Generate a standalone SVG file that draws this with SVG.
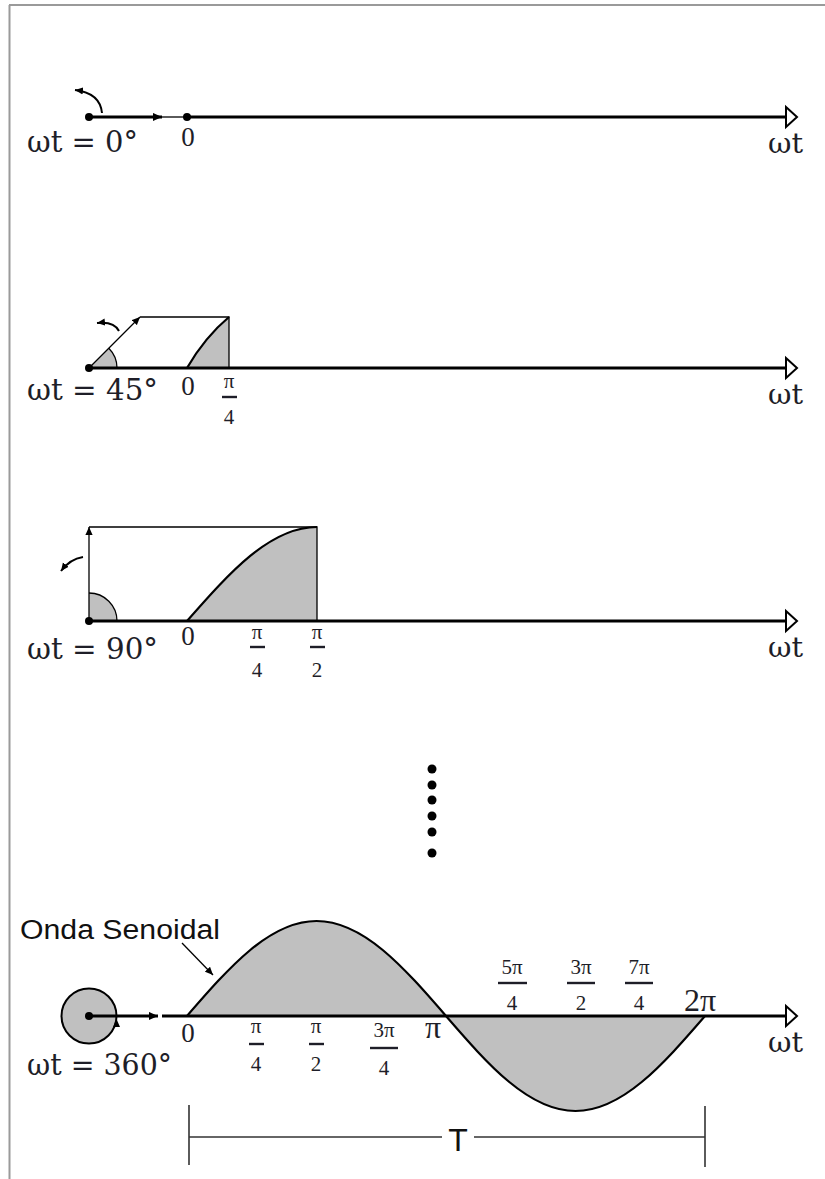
<svg xmlns="http://www.w3.org/2000/svg" width="825" height="1179" viewBox="0 0 825 1179">
<style>
.frame{stroke:#9a9a9a;stroke-width:2;fill:none}
.axis{stroke:#000;stroke-width:3;fill:none}
.thin{stroke:#000;stroke-width:1.3;fill:none}
.curve{stroke:#000;stroke-width:2.2;fill:none}
.fillg{fill:#c0c0c0;stroke:none}
.open{fill:#fff;stroke:#000;stroke-width:2}
.lbl{font-family:"DejaVu Serif","Liberation Serif",serif;fill:#1e1e28}
.pi{font-family:"Liberation Serif","DejaVu Serif",serif;fill:#1e1e28}
.big{font-size:30px}
.ax{font-size:27px;text-anchor:middle}
.fr{font-size:21px;text-anchor:middle}
.wt{font-size:27px}
.sans{font-family:"Liberation Sans",Arial,sans-serif;fill:#111}
.bar{stroke:#1e1e28;stroke-width:2.4}
.dim{stroke:#333;stroke-width:1.6;fill:none}
</style>
<defs>
<marker id="ah" viewBox="0 0 10 10" refX="10" refY="5" markerWidth="9" markerHeight="9" markerUnits="userSpaceOnUse" orient="auto"><path d="M0,0.5 L10,5 L0,9.5 Z" fill="#000"/></marker>
<marker id="ahs" viewBox="0 0 10 10" refX="10" refY="5" markerWidth="8" markerHeight="8" markerUnits="userSpaceOnUse" orient="auto"><path d="M0,0.5 L10,5 L0,9.5 Z" fill="#000"/></marker>
</defs>
<g id="frame">
<line class="frame" x1="9" y1="5" x2="825" y2="5"/>
<line class="frame" x1="9.5" y1="5" x2="9.5" y2="1179"/>
</g>
<g id="row1">
<path class="thin" d="M162,117 L187,117"/>
<path class="axis" d="M187,117 L786,117"/>
<path class="axis" d="M89,117 L162,117" marker-end="url(#ah)"/>
<polygon class="open" points="786,107 797,117 786,127"/>
<circle cx="89" cy="117" r="4" fill="#000"/>
<circle cx="187" cy="117" r="4" fill="#000"/>
<path stroke="#000" stroke-width="2" fill="none" d="M102,113 Q100,93 75,90" marker-end="url(#ahs)"/>
<text class="lbl big" x="27" y="152" textLength="111" lengthAdjust="spacingAndGlyphs">ωt = 0°</text>
<text class="pi ax" x="188" y="146">0</text>
<text class="lbl wt" x="768" y="153" textLength="35" lengthAdjust="spacingAndGlyphs">ωt</text>
</g>
<g id="row2">
<path class="fillg" d="M89,368 L117,368 A28,28 0 0 0 108.8,348.2 Z"/>
<path class="fillg" d="M187,368 Q205,337 229,317 L229,368 Z"/>
<path class="thin" d="M108.8,348.2 A28,28 0 0 1 117,368" stroke-width="1.6"/>
<path class="thin" d="M89,368 L140,317" marker-end="url(#ahs)"/>
<path class="thin" d="M140,317 L229,317 L229,368" stroke-width="1.6"/>
<path class="curve" d="M187,368 Q205,337 229,317"/>
<path class="axis" d="M89,368 L786,368"/>
<polygon class="open" points="786,358 797,368 786,378"/>
<circle cx="89" cy="368" r="4" fill="#000"/>
<path stroke="#000" stroke-width="2" fill="none" d="M119,331 Q114,321 97,323" marker-end="url(#ahs)"/>
<text class="lbl big" x="27" y="400" textLength="131" lengthAdjust="spacingAndGlyphs">ωt = 45°</text>
<text class="pi ax" x="188" y="395">0</text>
<text class="pi fr" x="229" y="388">π</text>
<line class="bar" x1="222" y1="397" x2="237" y2="397"/>
<text class="pi fr" x="229" y="424">4</text>
<text class="lbl wt" x="768" y="404" textLength="35" lengthAdjust="spacingAndGlyphs">ωt</text>
</g>
<g id="row3">
<path class="fillg" d="M89,621 L117,621 A28,28 0 0 0 89,593 Z"/>
<path class="fillg" d="M187,621 C229.4,572.8 269.9,527 317,527 L317,621 Z"/>
<path class="thin" d="M89,593 A28,28 0 0 1 117,621" stroke-width="1.6"/>
<path class="thin" d="M89,621 L89,527" marker-end="url(#ahs)"/>
<path class="thin" d="M89,527 L317,527 L317,621" stroke-width="1.6"/>
<path class="curve" d="M187,621 C229.4,572.8 269.9,527 317,527"/>
<path class="axis" d="M89,621 L786,621"/>
<polygon class="open" points="786,611 797,621 786,631"/>
<circle cx="89" cy="621" r="4" fill="#000"/>
<path stroke="#000" stroke-width="2" fill="none" d="M83,557 Q70,559 61,571" marker-end="url(#ahs)"/>
<text class="lbl big" x="27" y="659" textLength="131" lengthAdjust="spacingAndGlyphs">ωt = 90°</text>
<text class="pi ax" x="188" y="645">0</text>
<text class="pi fr" x="257" y="639">π</text>
<line class="bar" x1="250" y1="647" x2="265" y2="647"/>
<text class="pi fr" x="257" y="677">4</text>
<text class="pi fr" x="317" y="639">π</text>
<line class="bar" x1="310" y1="647" x2="325" y2="647"/>
<text class="pi fr" x="317" y="677">2</text>
<text class="lbl wt" x="768" y="657" textLength="35" lengthAdjust="spacingAndGlyphs">ωt</text>
</g>
<g id="dots" fill="#000">
<circle cx="432" cy="769" r="4.5"/>
<circle cx="432" cy="785" r="4.5"/>
<circle cx="432" cy="800" r="4.5"/>
<circle cx="432" cy="816" r="4.5"/>
<circle cx="432" cy="832" r="4.5"/>
<circle cx="432" cy="853" r="4.5"/>
</g>
<g id="row4">
<path class="fillg" d="M187,1016 C229.2,967.3 269.6,921 316.5,921 C363.4,921 403.8,967.3 446,1016 C488.2,1064.7 528.6,1111 575.5,1111 C622.4,1111 662.8,1064.7 705,1016 Z"/>
<path class="axis" d="M162,1016 L786,1016"/>
<path class="curve" d="M187,1016 C229.2,967.3 269.6,921 316.5,921 C363.4,921 403.8,967.3 446,1016 C488.2,1064.7 528.6,1111 575.5,1111 C622.4,1111 662.8,1064.7 705,1016"/>
<polygon class="open" points="786,1006 797,1016 786,1026"/>
<circle cx="89" cy="1016" r="27.5" fill="#c0c0c0" stroke="#000" stroke-width="2"/>
<polygon points="113,1027 120,1027 116.5,1019" fill="#000"/>
<path class="axis" d="M89,1016 L158,1016" marker-end="url(#ah)"/>
<circle cx="89" cy="1016" r="4" fill="#000"/>
<text class="lbl big" x="27" y="1075" textLength="145" lengthAdjust="spacingAndGlyphs">ωt = 360°</text>
<text class="pi ax" x="188" y="1042">0</text>
<text class="pi fr" x="256" y="1033">π</text>
<line class="bar" x1="249" y1="1044" x2="264" y2="1044"/>
<text class="pi fr" x="256" y="1071">4</text>
<text class="pi fr" x="316" y="1033">π</text>
<line class="bar" x1="309" y1="1044" x2="324" y2="1044"/>
<text class="pi fr" x="316" y="1071">2</text>
<text class="pi fr" x="384" y="1037">3π</text>
<line class="bar" x1="370" y1="1048" x2="398" y2="1048"/>
<text class="pi fr" x="384" y="1075">4</text>
<text class="pi" x="433" y="1038" font-size="32" text-anchor="middle">π</text>
<text class="pi fr" x="512" y="974">5π</text>
<line class="bar" x1="498" y1="983" x2="527" y2="983"/>
<text class="pi fr" x="512" y="1010">4</text>
<text class="pi fr" x="581" y="974">3π</text>
<line class="bar" x1="567" y1="983" x2="595" y2="983"/>
<text class="pi fr" x="581" y="1010">2</text>
<text class="pi fr" x="639" y="974">7π</text>
<line class="bar" x1="625" y1="983" x2="653" y2="983"/>
<text class="pi fr" x="639" y="1010">4</text>
<text class="pi" x="700" y="1011" font-size="32" text-anchor="middle">2π</text>
<text class="lbl wt" x="768" y="1052" textLength="35" lengthAdjust="spacingAndGlyphs">ωt</text>
</g>
<g id="label-onda">
<text class="sans" x="20" y="939" font-size="27" textLength="200" lengthAdjust="spacingAndGlyphs">Onda Senoidal</text>
<path class="thin" d="M182,943 L213,975" marker-end="url(#ahs)"/>
</g>
<g id="period">
<line class="dim" x1="189" y1="1105" x2="189" y2="1165"/>
<line class="dim" x1="705" y1="1106" x2="705" y2="1167"/>
<line class="dim" x1="189" y1="1137" x2="442" y2="1137"/>
<line class="dim" x1="474" y1="1137" x2="705" y2="1137"/>
<text class="sans" x="458" y="1151" font-size="32" text-anchor="middle">T</text>
</g>
</svg>
